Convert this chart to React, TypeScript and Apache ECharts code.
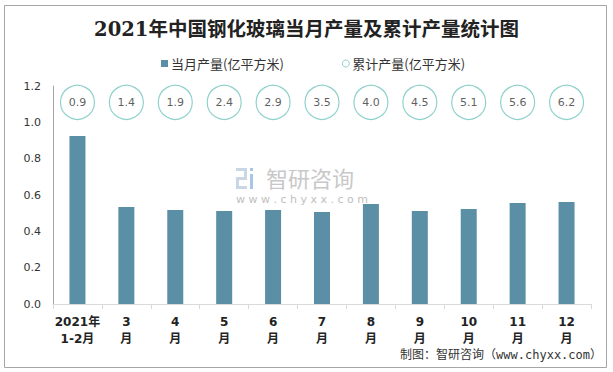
import React, { useEffect, useRef } from "react";
import * as echarts from "echarts";

const categories = ["2021年\n1-2月", "3\n月", "4\n月", "5\n月", "6\n月", "7\n月", "8\n月", "9\n月", "10\n月", "11\n月", "12\n月"];
const monthly = [0.925, 0.534, 0.517, 0.512, 0.517, 0.506, 0.55, 0.512, 0.523, 0.556, 0.561];
const cumulative = [0.9, 1.4, 1.9, 2.4, 2.9, 3.5, 4.0, 4.5, 5.1, 5.6, 6.2];
const seriesNames = ["当月产量(亿平方米)", "累计产量(亿平方米)"];
const titleText = "2021年中国钢化玻璃当月产量及累计产量统计图";
const sourceText = "制图：智研咨询（www.chyxx.com）";
const CIRCLE_ROW = 1.11;

export default function App() {
  const ref = useRef<HTMLDivElement>(null);
  useEffect(() => {
    document.body.style.margin = "0";
    const chart = echarts.init(ref.current!, null, { renderer: "svg" });
    const barColor = "#5b8fa6";
    const ringColor = "#72c6be";
    chart.setOption({
      animation: false,
      backgroundColor: "#ffffff",
      title: {
        text: titleText,
        left: "center",
        top: 15,
        textStyle: {
          fontFamily: "DejaVu Serif, Noto Sans CJK SC, serif",
          fontWeight: "bold",
          fontSize: 19.5,
          color: "#222",
        },
      },
      legend: {
        left: 156,
        top: 52,
        itemWidth: 7,
        itemHeight: 7,
        itemGap: 58,
        textStyle: { fontSize: 13, color: "#333", fontFamily: "Noto Sans CJK SC, sans-serif", padding: [0, 0, 0, -2] },
        data: [
          { name: seriesNames[0], icon: "rect" },
          { name: seriesNames[1], icon: "circle", itemStyle: { color: "#fff", borderColor: ringColor, borderWidth: 1 } },
        ],
      },
      grid: { left: 53, right: 22, top: 86, bottom: 68 },
      xAxis: {
        type: "category",
        data: categories,
        boundaryGap: true,
        axisLine: { lineStyle: { color: "#d9d9d9" } },
        axisTick: { show: true, length: 5, lineStyle: { color: "#d9d9d9" } },
        axisLabel: {
          interval: 0,
          margin: 9,
          fontSize: 12,
          lineHeight: 17,
          fontWeight: "bold",
          color: "#222",
          fontFamily: "DejaVu Sans, Noto Sans CJK SC, sans-serif",
        },
      },
      yAxis: {
        type: "value",
        min: 0,
        max: 1.2,
        interval: 0.2,
        splitLine: { show: false },
        axisLine: { show: true, lineStyle: { color: "#a6a6a6" } },
        axisTick: { show: false },
        axisLabel: {
          margin: 12,
          fontSize: 11,
          color: "#333",
          fontFamily: "DejaVu Sans, sans-serif",
          formatter: (v: number) => v.toFixed(1),
        },
      },
      graphic: [
        {
          type: "rect",
          shape: { x: 4.5, y: 5.5, width: 602, height: 362 },
          style: { fill: "none", stroke: "#a6a6a6", lineWidth: 1 },
          silent: true,
          z: 100,
        },
        {
          type: "group",
          silent: true,
          z: 0,
          children: [
            { type: "rect", shape: { x: 236, y: 168, width: 11, height: 3 }, style: { fill: "#c9d6e6" } },
            { type: "rect", shape: { x: 244, y: 168, width: 3, height: 11 }, style: { fill: "#c9d6e6" } },
            { type: "rect", shape: { x: 236, y: 177, width: 11, height: 3 }, style: { fill: "#c9d6e6" } },
            { type: "rect", shape: { x: 236, y: 177, width: 3, height: 12 }, style: { fill: "#c9d6e6" } },
            { type: "rect", shape: { x: 236, y: 186, width: 11, height: 3 }, style: { fill: "#c9d6e6" } },
            { type: "rect", shape: { x: 250, y: 168, width: 3, height: 3 }, style: { fill: "#a9c6e8" } },
            { type: "rect", shape: { x: 250, y: 174, width: 3, height: 15 }, style: { fill: "#a9c6e8" } },
            {
              type: "text",
              x: 266,
              y: 177,
              style: { text: "智研咨询", fontSize: 22, fill: "#c8c8c8", fontFamily: "Noto Sans CJK SC, sans-serif", verticalAlign: "middle" },
            },
            {
              type: "text",
              x: 236,
              y: 199,
              style: {
                text: "w w w . c h y x x . c o m",
                fontSize: 11,
                fill: "#c0c0c0",
                fontFamily: "DejaVu Sans, sans-serif",
                verticalAlign: "middle",
              },
            },
          ],
        },
        {
          type: "text",
          right: 11,
          top: 349,
          style: {
            text: sourceText,
            fontSize: 12,
            fill: "#333",
            fontFamily: "DejaVu Sans Mono, Noto Sans CJK SC, monospace",
          },
          z: 100,
        },
      ],
      series: [
        {
          name: seriesNames[0],
          type: "bar",
          data: monthly,
          barWidth: 16,
          itemStyle: { color: barColor },
          z: 2,
        },
        {
          name: seriesNames[1],
          type: "scatter",
          data: cumulative.map((c, i) => ({ value: [i, CIRCLE_ROW], cum: c })),
          symbol: "circle",
          symbolSize: 34,
          itemStyle: { color: "#fff", borderColor: ringColor, borderWidth: 1.2 },
          label: {
            show: true,
            position: "inside",
            fontSize: 11,
            color: "#333",
            fontFamily: "DejaVu Sans, sans-serif",
            formatter: (p: any) => cumulative[p.dataIndex].toFixed(1),
          },
          z: 3,
        },
      ],
    });
    return () => chart.dispose();
  }, []);
  return <div ref={ref} style={{ width: 613, height: 372 }} />;
}
